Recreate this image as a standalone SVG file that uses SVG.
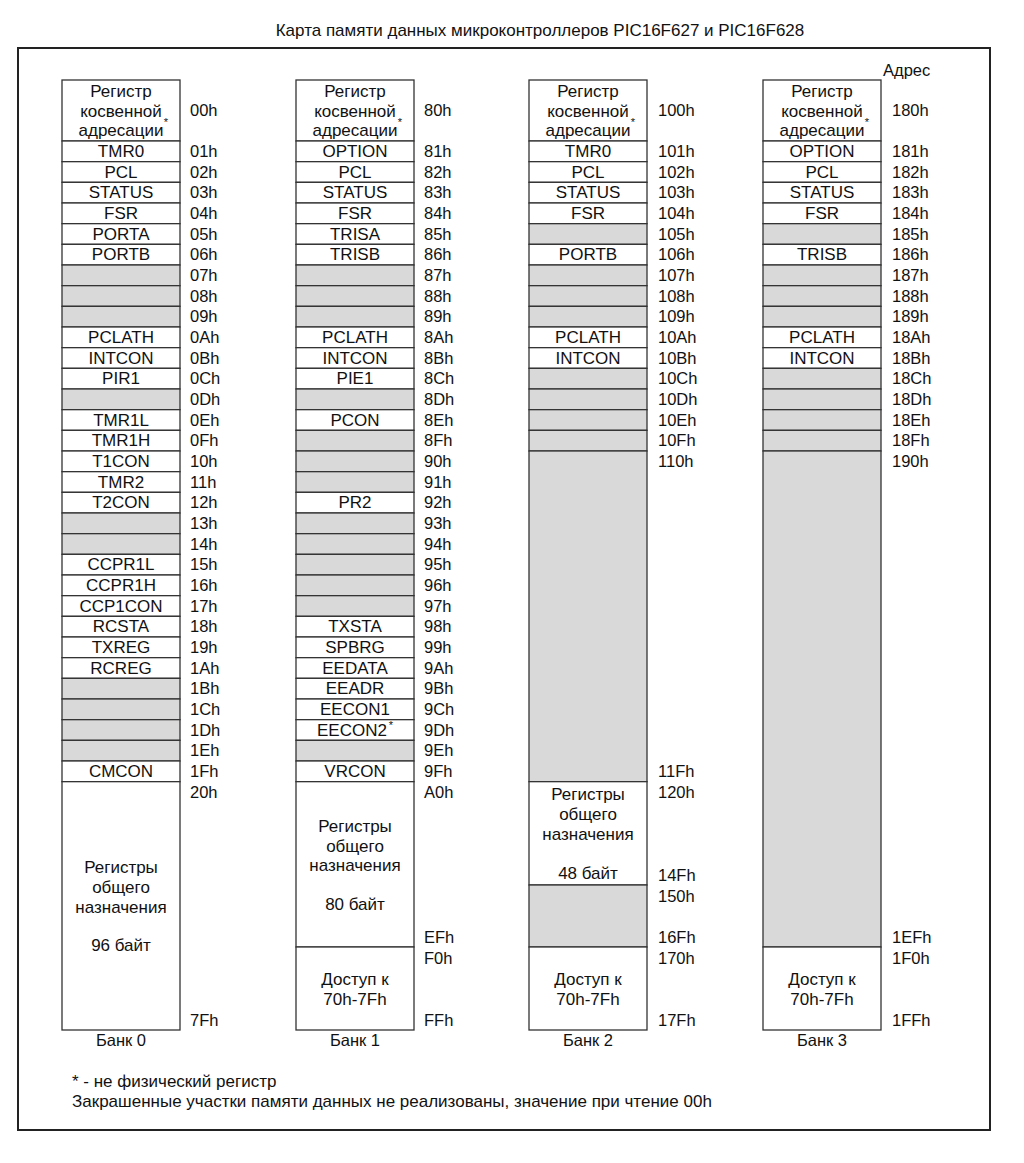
<svg xmlns="http://www.w3.org/2000/svg" width="1024" height="1163" viewBox="0 0 1024 1163">
<style>
text{font-family:"Liberation Sans",Arial,sans-serif;fill:#111}
.t{font-size:17px;text-anchor:middle}
.a{font-size:16.5px}
.b{font-size:16.5px;text-anchor:middle}
.f{font-size:17px}
.st{font-size:11px;text-anchor:middle}
.c{fill:#fff;stroke:#333;stroke-width:1.3}
.s{fill:#d9d9d9;stroke:#333;stroke-width:1.3}
</style>
<rect width="1024" height="1163" fill="#fff"/>
<text x="540" y="36" class="t">Карта памяти данных микроконтроллеров PIC16F627 и PIC16F628</text>
<rect x="18" y="48" width="972" height="1082" fill="none" stroke="#222" stroke-width="2"/>
<text x="883" y="76" class="a">Адрес</text>

<g id="bank0">
<rect class="c" x="62" y="80" width="118" height="61"/>
<text x="121" y="97" class="t">Регистр</text><text x="121" y="117" class="t">косвенной</text><text x="121" y="136" class="t">адресации</text><text x="166" y="126" class="st">*</text>
<text x="190" y="116" class="a">00h</text>
<rect class="c" x="62" y="141" width="118" height="20.67"/><text x="121" y="157" class="t">TMR0</text><text x="190" y="157" class="a">01h</text>
<rect class="c" x="62" y="161.67" width="118" height="20.67"/><text x="121" y="177.7" class="t">PCL</text><text x="190" y="177.7" class="a">02h</text>
<rect class="c" x="62" y="182.33" width="118" height="20.67"/><text x="121" y="198.3" class="t">STATUS</text><text x="190" y="198.3" class="a">03h</text>
<rect class="c" x="62" y="203" width="118" height="20.67"/><text x="121" y="219" class="t">FSR</text><text x="190" y="219" class="a">04h</text>
<rect class="c" x="62" y="223.67" width="118" height="20.67"/><text x="121" y="239.7" class="t">PORTA</text><text x="190" y="239.7" class="a">05h</text>
<rect class="c" x="62" y="244.33" width="118" height="20.67"/><text x="121" y="260.3" class="t">PORTB</text><text x="190" y="260.3" class="a">06h</text>
<rect class="s" x="62" y="265" width="118" height="20.67"/><text x="190" y="281" class="a">07h</text>
<rect class="s" x="62" y="285.67" width="118" height="20.67"/><text x="190" y="301.7" class="a">08h</text>
<rect class="s" x="62" y="306.33" width="118" height="20.67"/><text x="190" y="322.3" class="a">09h</text>
<rect class="c" x="62" y="327" width="118" height="20.67"/><text x="121" y="343" class="t">PCLATH</text><text x="190" y="343" class="a">0Ah</text>
<rect class="c" x="62" y="347.67" width="118" height="20.67"/><text x="121" y="363.7" class="t">INTCON</text><text x="190" y="363.7" class="a">0Bh</text>
<rect class="c" x="62" y="368.33" width="118" height="20.67"/><text x="121" y="384.3" class="t">PIR1</text><text x="190" y="384.3" class="a">0Ch</text>
<rect class="s" x="62" y="389" width="118" height="20.67"/><text x="190" y="405" class="a">0Dh</text>
<rect class="c" x="62" y="409.67" width="118" height="20.67"/><text x="121" y="425.7" class="t">TMR1L</text><text x="190" y="425.7" class="a">0Eh</text>
<rect class="c" x="62" y="430.33" width="118" height="20.67"/><text x="121" y="446.3" class="t">TMR1H</text><text x="190" y="446.3" class="a">0Fh</text>
<rect class="c" x="62" y="451" width="118" height="20.67"/><text x="121" y="467" class="t">T1CON</text><text x="190" y="467" class="a">10h</text>
<rect class="c" x="62" y="471.67" width="118" height="20.67"/><text x="121" y="487.7" class="t">TMR2</text><text x="190" y="487.7" class="a">11h</text>
<rect class="c" x="62" y="492.33" width="118" height="20.67"/><text x="121" y="508.3" class="t">T2CON</text><text x="190" y="508.3" class="a">12h</text>
<rect class="s" x="62" y="513" width="118" height="20.67"/><text x="190" y="529" class="a">13h</text>
<rect class="s" x="62" y="533.67" width="118" height="20.67"/><text x="190" y="549.7" class="a">14h</text>
<rect class="c" x="62" y="554.33" width="118" height="20.67"/><text x="121" y="570.3" class="t">CCPR1L</text><text x="190" y="570.3" class="a">15h</text>
<rect class="c" x="62" y="575" width="118" height="20.67"/><text x="121" y="591" class="t">CCPR1H</text><text x="190" y="591" class="a">16h</text>
<rect class="c" x="62" y="595.67" width="118" height="20.67"/><text x="121" y="611.7" class="t">CCP1CON</text><text x="190" y="611.7" class="a">17h</text>
<rect class="c" x="62" y="616.33" width="118" height="20.67"/><text x="121" y="632.3" class="t">RCSTA</text><text x="190" y="632.3" class="a">18h</text>
<rect class="c" x="62" y="637" width="118" height="20.67"/><text x="121" y="653" class="t">TXREG</text><text x="190" y="653" class="a">19h</text>
<rect class="c" x="62" y="657.67" width="118" height="20.67"/><text x="121" y="673.7" class="t">RCREG</text><text x="190" y="673.7" class="a">1Ah</text>
<rect class="s" x="62" y="678.33" width="118" height="20.67"/><text x="190" y="694.3" class="a">1Bh</text>
<rect class="s" x="62" y="699" width="118" height="20.67"/><text x="190" y="715" class="a">1Ch</text>
<rect class="s" x="62" y="719.67" width="118" height="20.67"/><text x="190" y="735.7" class="a">1Dh</text>
<rect class="s" x="62" y="740.33" width="118" height="20.67"/><text x="190" y="756.3" class="a">1Eh</text>
<rect class="c" x="62" y="761" width="118" height="20.67"/><text x="121" y="777" class="t">CMCON</text><text x="190" y="777" class="a">1Fh</text>
<rect class="c" x="62" y="781.67" width="118" height="248.33"/>
<text x="121" y="873" class="t">Регистры</text><text x="121" y="893" class="t">общего</text><text x="121" y="913" class="t">назначения</text><text x="121" y="951" class="t">96 байт</text>
<text x="190" y="798" class="a">20h</text><text x="190" y="1026" class="a">7Fh</text>
<text x="121" y="1046" class="b">Банк 0</text>
</g>

<g id="bank1">
<rect class="c" x="296" y="80" width="118" height="61"/>
<text x="355" y="97" class="t">Регистр</text><text x="355" y="117" class="t">косвенной</text><text x="355" y="136" class="t">адресации</text><text x="400" y="126" class="st">*</text>
<text x="424" y="116" class="a">80h</text>
<rect class="c" x="296" y="141" width="118" height="20.67"/><text x="355" y="157" class="t">OPTION</text><text x="424" y="157" class="a">81h</text>
<rect class="c" x="296" y="161.67" width="118" height="20.67"/><text x="355" y="177.7" class="t">PCL</text><text x="424" y="177.7" class="a">82h</text>
<rect class="c" x="296" y="182.33" width="118" height="20.67"/><text x="355" y="198.3" class="t">STATUS</text><text x="424" y="198.3" class="a">83h</text>
<rect class="c" x="296" y="203" width="118" height="20.67"/><text x="355" y="219" class="t">FSR</text><text x="424" y="219" class="a">84h</text>
<rect class="c" x="296" y="223.67" width="118" height="20.67"/><text x="355" y="239.7" class="t">TRISA</text><text x="424" y="239.7" class="a">85h</text>
<rect class="c" x="296" y="244.33" width="118" height="20.67"/><text x="355" y="260.3" class="t">TRISB</text><text x="424" y="260.3" class="a">86h</text>
<rect class="s" x="296" y="265" width="118" height="20.67"/><text x="424" y="281" class="a">87h</text>
<rect class="s" x="296" y="285.67" width="118" height="20.67"/><text x="424" y="301.7" class="a">88h</text>
<rect class="s" x="296" y="306.33" width="118" height="20.67"/><text x="424" y="322.3" class="a">89h</text>
<rect class="c" x="296" y="327" width="118" height="20.67"/><text x="355" y="343" class="t">PCLATH</text><text x="424" y="343" class="a">8Ah</text>
<rect class="c" x="296" y="347.67" width="118" height="20.67"/><text x="355" y="363.7" class="t">INTCON</text><text x="424" y="363.7" class="a">8Bh</text>
<rect class="c" x="296" y="368.33" width="118" height="20.67"/><text x="355" y="384.3" class="t">PIE1</text><text x="424" y="384.3" class="a">8Ch</text>
<rect class="s" x="296" y="389" width="118" height="20.67"/><text x="424" y="405" class="a">8Dh</text>
<rect class="c" x="296" y="409.67" width="118" height="20.67"/><text x="355" y="425.7" class="t">PCON</text><text x="424" y="425.7" class="a">8Eh</text>
<rect class="s" x="296" y="430.33" width="118" height="20.67"/><text x="424" y="446.3" class="a">8Fh</text>
<rect class="s" x="296" y="451" width="118" height="20.67"/><text x="424" y="467" class="a">90h</text>
<rect class="s" x="296" y="471.67" width="118" height="20.67"/><text x="424" y="487.7" class="a">91h</text>
<rect class="c" x="296" y="492.33" width="118" height="20.67"/><text x="355" y="508.3" class="t">PR2</text><text x="424" y="508.3" class="a">92h</text>
<rect class="s" x="296" y="513" width="118" height="20.67"/><text x="424" y="529" class="a">93h</text>
<rect class="s" x="296" y="533.67" width="118" height="20.67"/><text x="424" y="549.7" class="a">94h</text>
<rect class="s" x="296" y="554.33" width="118" height="20.67"/><text x="424" y="570.3" class="a">95h</text>
<rect class="s" x="296" y="575" width="118" height="20.67"/><text x="424" y="591" class="a">96h</text>
<rect class="s" x="296" y="595.67" width="118" height="20.67"/><text x="424" y="611.7" class="a">97h</text>
<rect class="c" x="296" y="616.33" width="118" height="20.67"/><text x="355" y="632.3" class="t">TXSTA</text><text x="424" y="632.3" class="a">98h</text>
<rect class="c" x="296" y="637" width="118" height="20.67"/><text x="355" y="653" class="t">SPBRG</text><text x="424" y="653" class="a">99h</text>
<rect class="c" x="296" y="657.67" width="118" height="20.67"/><text x="355" y="673.7" class="t">EEDATA</text><text x="424" y="673.7" class="a">9Ah</text>
<rect class="c" x="296" y="678.33" width="118" height="20.67"/><text x="355" y="694.3" class="t">EEADR</text><text x="424" y="694.3" class="a">9Bh</text>
<rect class="c" x="296" y="699" width="118" height="20.67"/><text x="355" y="715" class="t">EECON1</text><text x="424" y="715" class="a">9Ch</text>
<rect class="c" x="296" y="719.67" width="118" height="20.67"/><text x="352" y="735.7" class="t">EECON2</text><text x="391" y="729" class="st">*</text><text x="424" y="735.7" class="a">9Dh</text>
<rect class="s" x="296" y="740.33" width="118" height="20.67"/><text x="424" y="756.3" class="a">9Eh</text>
<rect class="c" x="296" y="761" width="118" height="20.67"/><text x="355" y="777" class="t">VRCON</text><text x="424" y="777" class="a">9Fh</text>
<rect class="c" x="296" y="781.67" width="118" height="165.33"/>
<text x="355" y="832" class="t">Регистры</text><text x="355" y="852" class="t">общего</text><text x="355" y="871" class="t">назначения</text><text x="355" y="910" class="t">80 байт</text>
<rect class="c" x="296" y="947" width="118" height="83"/>
<text x="355" y="985" class="t">Доступ к</text><text x="355" y="1005" class="t">70h-7Fh</text>
<text x="424" y="798" class="a">A0h</text><text x="424" y="943" class="a">EFh</text><text x="424" y="964" class="a">F0h</text><text x="424" y="1026" class="a">FFh</text>
<text x="355" y="1046" class="b">Банк 1</text>
</g>

<g id="bank2">
<rect class="c" x="529" y="80" width="118" height="61"/>
<text x="588" y="97" class="t">Регистр</text><text x="588" y="117" class="t">косвенной</text><text x="588" y="136" class="t">адресации</text><text x="633" y="126" class="st">*</text>
<text x="658" y="116" class="a">100h</text>
<rect class="c" x="529" y="141" width="118" height="20.67"/><text x="588" y="157" class="t">TMR0</text><text x="658" y="157" class="a">101h</text>
<rect class="c" x="529" y="161.67" width="118" height="20.67"/><text x="588" y="177.7" class="t">PCL</text><text x="658" y="177.7" class="a">102h</text>
<rect class="c" x="529" y="182.33" width="118" height="20.67"/><text x="588" y="198.3" class="t">STATUS</text><text x="658" y="198.3" class="a">103h</text>
<rect class="c" x="529" y="203" width="118" height="20.67"/><text x="588" y="219" class="t">FSR</text><text x="658" y="219" class="a">104h</text>
<rect class="s" x="529" y="223.67" width="118" height="20.67"/><text x="658" y="239.7" class="a">105h</text>
<rect class="c" x="529" y="244.33" width="118" height="20.67"/><text x="588" y="260.3" class="t">PORTB</text><text x="658" y="260.3" class="a">106h</text>
<rect class="s" x="529" y="265" width="118" height="20.67"/><text x="658" y="281" class="a">107h</text>
<rect class="s" x="529" y="285.67" width="118" height="20.67"/><text x="658" y="301.7" class="a">108h</text>
<rect class="s" x="529" y="306.33" width="118" height="20.67"/><text x="658" y="322.3" class="a">109h</text>
<rect class="c" x="529" y="327" width="118" height="20.67"/><text x="588" y="343" class="t">PCLATH</text><text x="658" y="343" class="a">10Ah</text>
<rect class="c" x="529" y="347.67" width="118" height="20.67"/><text x="588" y="363.7" class="t">INTCON</text><text x="658" y="363.7" class="a">10Bh</text>
<rect class="s" x="529" y="368.33" width="118" height="20.67"/><text x="658" y="384.3" class="a">10Ch</text>
<rect class="s" x="529" y="389" width="118" height="20.67"/><text x="658" y="405" class="a">10Dh</text>
<rect class="s" x="529" y="409.67" width="118" height="20.67"/><text x="658" y="425.7" class="a">10Eh</text>
<rect class="s" x="529" y="430.33" width="118" height="20.67"/><text x="658" y="446.3" class="a">10Fh</text>
<rect class="s" x="529" y="451" width="118" height="330.67"/><text x="658" y="467" class="a">110h</text><text x="658" y="777" class="a">11Fh</text>
<rect class="c" x="529" y="781.67" width="118" height="103.33"/>
<text x="588" y="800" class="t">Регистры</text><text x="588" y="820" class="t">общего</text><text x="588" y="840" class="t">назначения</text><text x="588" y="879" class="t">48 байт</text>
<rect class="s" x="529" y="885" width="118" height="62"/>
<rect class="c" x="529" y="947" width="118" height="83"/>
<text x="588" y="985" class="t">Доступ к</text><text x="588" y="1005" class="t">70h-7Fh</text>
<text x="658" y="798" class="a">120h</text><text x="658" y="881" class="a">14Fh</text><text x="658" y="902" class="a">150h</text><text x="658" y="943" class="a">16Fh</text><text x="658" y="964" class="a">170h</text><text x="658" y="1026" class="a">17Fh</text>
<text x="588" y="1046" class="b">Банк 2</text>
</g>

<g id="bank3">
<rect class="c" x="763" y="80" width="118" height="61"/>
<text x="822" y="97" class="t">Регистр</text><text x="822" y="117" class="t">косвенной</text><text x="822" y="136" class="t">адресации</text><text x="867" y="126" class="st">*</text>
<text x="892" y="116" class="a">180h</text>
<rect class="c" x="763" y="141" width="118" height="20.67"/><text x="822" y="157" class="t">OPTION</text><text x="892" y="157" class="a">181h</text>
<rect class="c" x="763" y="161.67" width="118" height="20.67"/><text x="822" y="177.7" class="t">PCL</text><text x="892" y="177.7" class="a">182h</text>
<rect class="c" x="763" y="182.33" width="118" height="20.67"/><text x="822" y="198.3" class="t">STATUS</text><text x="892" y="198.3" class="a">183h</text>
<rect class="c" x="763" y="203" width="118" height="20.67"/><text x="822" y="219" class="t">FSR</text><text x="892" y="219" class="a">184h</text>
<rect class="s" x="763" y="223.67" width="118" height="20.67"/><text x="892" y="239.7" class="a">185h</text>
<rect class="c" x="763" y="244.33" width="118" height="20.67"/><text x="822" y="260.3" class="t">TRISB</text><text x="892" y="260.3" class="a">186h</text>
<rect class="s" x="763" y="265" width="118" height="20.67"/><text x="892" y="281" class="a">187h</text>
<rect class="s" x="763" y="285.67" width="118" height="20.67"/><text x="892" y="301.7" class="a">188h</text>
<rect class="s" x="763" y="306.33" width="118" height="20.67"/><text x="892" y="322.3" class="a">189h</text>
<rect class="c" x="763" y="327" width="118" height="20.67"/><text x="822" y="343" class="t">PCLATH</text><text x="892" y="343" class="a">18Ah</text>
<rect class="c" x="763" y="347.67" width="118" height="20.67"/><text x="822" y="363.7" class="t">INTCON</text><text x="892" y="363.7" class="a">18Bh</text>
<rect class="s" x="763" y="368.33" width="118" height="20.67"/><text x="892" y="384.3" class="a">18Ch</text>
<rect class="s" x="763" y="389" width="118" height="20.67"/><text x="892" y="405" class="a">18Dh</text>
<rect class="s" x="763" y="409.67" width="118" height="20.67"/><text x="892" y="425.7" class="a">18Eh</text>
<rect class="s" x="763" y="430.33" width="118" height="20.67"/><text x="892" y="446.3" class="a">18Fh</text>
<rect class="s" x="763" y="451" width="118" height="496"/><text x="892" y="467" class="a">190h</text><text x="892" y="943" class="a">1EFh</text>
<rect class="c" x="763" y="947" width="118" height="83"/>
<text x="822" y="985" class="t">Доступ к</text><text x="822" y="1005" class="t">70h-7Fh</text>
<text x="892" y="964" class="a">1F0h</text><text x="892" y="1026" class="a">1FFh</text>
<text x="822" y="1046" class="b">Банк 3</text>
</g>

<g id="connectors"></g>

<text x="72" y="1087" class="f">* - не физический регистр</text>
<text x="72" y="1107" class="f">Закрашенные участки памяти данных не реализованы, значение при чтение 00h</text>
</svg>
